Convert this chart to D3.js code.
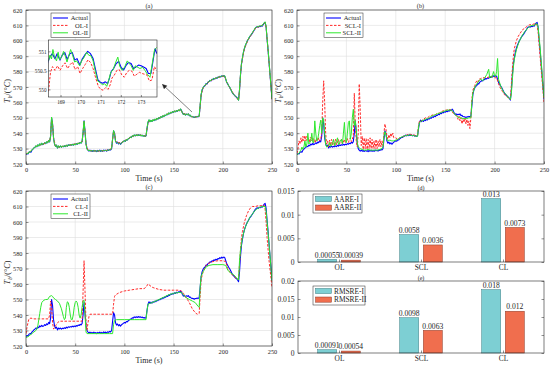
<!DOCTYPE html>
<html><head><meta charset="utf-8">
<script src="https://cdn.jsdelivr.net/npm/d3@7"></script>
<style>
body{margin:0;background:#fff;}
svg{display:block;font-family:"Liberation Serif","Times New Roman",serif;}
</style></head><body>
<svg id="chart" width="550" height="367"></svg>
<script>
// ---------------- data ----------------
const timeTicks = [0, 50, 100, 150, 200, 250];
const tempTicks = [520, 530, 540, 550, 560, 570, 580, 590, 600, 610, 620];
const insetTimeTicks = [169, 170, 171, 172, 173];
const insetTempTicks = [550, 550.5, 551];

const actual = [[0,526],[1,526.8],[2,526.5],[3,527.6],[4,528],[5,527.7],[6,529],[7,529.6],[8,530.4],[9,530.8],[10,531.6],[11,531.2],[12,532.3],[13,531.8],[14,533],[15,532.4],[16,533.4],[17,532.6],[18,533],[19,533.8],[20,533.2],[21,534.3],[22,533.8],[23,535.2],[24,534.4],[25,538],[26,550],[27,546],[28,537],[29,533],[30,531.5],[31,532.2],[32,530.4],[33,531.6],[34,531],[35,531.6],[36,530.9],[37,531.5],[38,531.2],[39,531.8],[40,531.3],[41,532.2],[42,531.6],[43,532.4],[44,532],[45,532.5],[46,532.2],[47,532.8],[48,532.3],[49,532.9],[50,532.5],[51,533.2],[52,532.8],[53,533.5],[54,533.2],[55,534],[56,533.6],[57,534.5],[58,540],[59,548],[60,541],[61,533],[62,530],[63,529],[64,528.4],[65,529],[66,528.3],[67,528.8],[68,528.1],[69,528.9],[70,528.3],[71,528.7],[72,528],[73,528.8],[74,528.3],[75,529],[76,528.2],[77,528.8],[78,528.2],[79,529.1],[80,528.5],[81,529],[82,528.4],[83,529.2],[84,528.8],[85,529.4],[86,529.1],[87,530],[88,536],[89,541.5],[90,540],[91,535],[92,533.5],[93,534.2],[94,533],[95,533.8],[96,532.8],[97,533.6],[98,534.2],[99,534.6],[100,535.2],[101,534.8],[102,535.8],[103,535.6],[104,536.4],[105,536.8],[106,537.4],[107,537.2],[108,538.2],[109,538],[110,538.8],[111,538.3],[112,538.9],[113,538.4],[114,539],[115,538.5],[116,538.9],[117,538.3],[118,538.7],[119,538.1],[120,538.4],[121,537.9],[122,538.3],[123,543],[124,547],[125,548.5],[126,547.5],[127,548.3],[128,547.6],[129,548.6],[130,548.2],[131,549],[132,548.6],[133,549.5],[134,549.2],[135,550],[136,549.8],[137,550.6],[138,550.3],[139,551.2],[140,550.8],[141,551.6],[142,551.5],[143,552.3],[144,552],[145,553],[146,552.6],[147,553.5],[148,553.2],[149,554],[150,553.6],[151,554.3],[152,553.9],[153,554.7],[154,554.3],[155,555],[156,554.6],[157,555.6],[158,554.8],[159,553.2],[160,552.2],[161,552.6],[162,551.8],[163,552.4],[164,552],[165,552.5],[166,551.4],[167,551.6],[168,550.8],[169,550.7],[170,550.6],[171,550.2],[172,550.6],[173,550.6],[174,550.9],[175,550.7],[176,551.2],[177,558],[178,565],[179,568],[180,569.5],[181,570.5],[182,571],[183,572.2],[184,572],[185,573.2],[186,573.5],[187,574.3],[188,574],[189,575],[190,574.8],[191,575.6],[192,575.2],[193,576],[194,575.6],[195,576.4],[196,576.2],[197,577],[198,576.5],[199,577.3],[200,576.8],[201,577.4],[202,577],[203,575],[204,573],[205,572],[206,570.8],[207,569.8],[208,568.5],[209,567.2],[210,566],[211,565.2],[212,564.6],[213,563.8],[214,563.4],[215,562.6],[216,561.5],[217,568],[218,578],[219,585],[220,589],[221,592.5],[222,595],[223,597],[224,598.5],[225,600],[226,601],[227,602.3],[228,603.2],[229,604],[230,605],[231,606],[232,607],[233,608.2],[234,608.8],[235,609.2],[236,608.8],[237,609.5],[238,609.2],[239,609.8],[240,609.5],[241,610.5],[242,611.5],[243,612],[244,609],[245,601],[246,594],[247,586],[248,578],[249,570],[250,562]];

const olI = [[0,526.5],[3,527.5],[6,529],[9,531],[12,532],[15,532.5],[18,533],[21,534],[24,535],[25,538],[26,549.5],[27,546],[28,537],[30,531.5],[34,531],[38,531.5],[42,532],[46,532.5],[50,533],[54,533.5],[57,534.5],[58,540],[59,547.5],[60,541],[61,533],[63,529],[67,528.5],[71,528.5],[75,528.5],[79,528.6],[83,529],[87,530],[88,536],[89,541],[90,540],[91,535],[93,534],[96,533.5],[100,535],[104,536.5],[108,538],[112,538.7],[116,538.8],[120,538.3],[122,538.2],[123,543],[124,547],[126,547.8],[130,548.5],[134,549.5],[138,550.5],[142,552],[146,553],[150,554],[154,554.5],[157,555.3],[159,553.2],[161,552.5],[165,552.2],[168,550.8],[172,550.4],[176,551],[177,558],[178,565],[180,569.5],[184,572.5],[188,574.3],[192,575.5],[196,576.4],[200,577],[202,577],[204,573],[208,568.5],[212,564.5],[216,561.5],[217,568],[218,578],[219,585],[222,595],[226,601],[230,605],[234,608.8],[238,609.3],[241,610.5],[243,611.8],[244,609],[246,594],[248,578],[250,562]];

const olII = [[0,526.3],[1,527],[2,526.6],[3,527.9],[4,527.8],[5,528.2],[6,529.3],[7,529.4],[8,530.7],[9,530.6],[10,531.9],[11,531],[12,532.6],[13,531.6],[14,533.2],[15,532.2],[16,533.7],[17,532.5],[18,533.3],[19,534],[20,533],[21,534.6],[22,533.6],[23,535.4],[24,534.2],[25,538.5],[26,550.5],[27,545.5],[28,536.5],[29,532.8],[30,531.3],[31,532.5],[32,530.2],[33,531.9],[34,530.8],[35,531.9],[36,530.7],[37,531.8],[38,531],[39,532],[40,531.1],[41,532.4],[42,531.4],[43,532.6],[44,531.8],[45,532.7],[46,532],[47,533],[48,532.1],[49,533.1],[50,532.3],[51,533.4],[52,532.6],[53,533.7],[54,533],[55,534.2],[56,533.4],[57,534.8],[58,541],[59,547.8],[60,540.5],[61,532.6],[62,529.7],[63,528.8],[64,528.6],[65,528.8],[66,528.5],[67,528.6],[68,528.3],[69,528.7],[70,528.5],[71,528.5],[72,528.2],[73,528.6],[74,528.5],[75,528.8],[76,528.4],[77,528.6],[78,528.4],[79,528.9],[80,528.7],[81,528.8],[82,528.6],[83,529],[84,529],[85,529.2],[86,529.3],[87,530.3],[88,536.5],[89,541.8],[90,539.6],[91,534.6],[92,533.8],[93,533.9],[94,533.3],[95,533.5],[96,533],[97,533.4],[98,534.4],[99,534.4],[100,535.4],[101,534.6],[102,536],[103,535.4],[104,536.6],[105,536.6],[106,537.6],[107,537],[108,538.4],[109,537.8],[110,539],[111,538.1],[112,539.1],[113,538.2],[114,539.2],[115,538.3],[116,539.1],[117,538.1],[118,538.9],[119,537.9],[120,538.6],[121,537.7],[122,538.5],[123,543.5],[124,547.5],[125,548.8],[126,547.2],[127,548.6],[128,547.4],[129,548.9],[130,548],[131,549.3],[132,548.4],[133,549.8],[134,549],[135,550.3],[136,549.6],[137,550.9],[138,550.1],[139,551.5],[140,550.6],[141,551.9],[142,551.3],[143,552.6],[144,551.8],[145,553.3],[146,552.4],[147,553.8],[148,553],[149,554.3],[150,553.4],[151,554.6],[152,553.7],[153,555],[154,554.1],[155,555.3],[156,554.4],[157,555.9],[158,554.6],[159,553],[160,552],[161,552.8],[162,551.6],[163,552.6],[164,551.8],[165,552.7],[166,551.2],[167,551.8],[168,550.6],[169,550.9],[170,550.4],[171,550.4],[172,550.4],[173,550.8],[174,550.7],[175,550.9],[176,551],[177,558.5],[178,565.3],[179,568.3],[180,569.8],[181,570.3],[182,571.3],[183,572],[184,572.3],[185,573],[186,573.8],[187,574.1],[188,574.3],[189,574.8],[190,575.1],[191,575.4],[192,575.5],[193,575.8],[194,575.9],[195,576.2],[196,576.5],[197,576.8],[198,576.8],[199,577.1],[200,577.1],[201,577.2],[202,577.3],[203,575.3],[204,572.8],[205,572.3],[206,570.5],[207,570],[208,568.3],[209,567.4],[210,565.8],[211,565.4],[212,564.4],[213,564],[214,563.2],[215,562.8],[216,561.3],[217,568.5],[218,578.5],[219,585.3],[220,589.3],[221,592.8],[222,595.2],[223,597.3],[224,598.7],[225,600.2],[226,601.2],[227,602.5],[228,603.4],[229,604.3],[230,605.2],[231,606.3],[232,607.3],[233,608.5],[234,608.6],[235,609.4],[236,609],[237,609.7],[238,609.4],[239,610],[240,609.7],[241,610.8],[242,611.8],[243,612.3],[244,609.5],[245,601.5],[246,594.5],[247,586.5],[248,578.5],[249,570.5],[250,562.3]];

const insetActual = [[168.35,550.68],[168.46,550.85],[168.59,550.94],[168.72,550.81],[168.83,550.94],[168.97,550.77],[169.08,550.9],[169.21,550.97],[169.33,550.79],[169.46,550.94],[169.58,550.97],[169.71,550.77],[169.82,550.81],[169.96,550.64],[170.07,550.79],[170.2,550.9],[170.35,551.0],[170.49,550.94],[170.62,550.81],[170.73,550.55],[170.86,550.25],[170.98,550.19],[171.1,550.16],[171.23,550.2],[171.34,550.15],[171.43,550.29],[171.52,550.47],[171.64,550.55],[171.77,550.68],[171.89,550.74],[172.02,550.57],[172.14,550.51],[172.27,550.64],[172.38,550.71],[172.51,550.68],[172.63,550.55],[172.75,550.59],[172.88,550.64],[173.01,550.62],[173.13,550.59],[173.26,550.55],[173.37,550.42],[173.5,550.42],[173.62,550.81],[173.7,551.07],[173.79,550.94]];
const insetOLI = [[168.4,549.95],[168.5,550.45],[168.6,550.6],[168.72,550.5],[168.85,550.62],[168.97,550.5],[169.1,550.62],[169.22,550.7],[169.35,550.55],[169.47,550.65],[169.6,550.72],[169.72,550.52],[169.85,550.6],[169.97,550.42],[170.1,550.55],[170.22,550.65],[170.37,550.78],[170.5,550.7],[170.62,550.55],[170.75,550.3],[170.88,550.08],[171.0,550.0],[171.12,549.98],[171.25,550.05],[171.37,550.0],[171.47,550.12],[171.56,550.3],[171.68,550.38],[171.8,550.5],[171.92,550.52],[172.05,550.38],[172.17,550.32],[172.3,550.45],[172.42,550.5],[172.55,550.48],[172.67,550.35],[172.8,550.4],[172.92,550.45],[173.05,550.42],[173.17,550.4],[173.3,550.38],[173.42,550.22],[173.55,550.25],[173.67,550.6],[173.78,550.5]];
const insetOLII = [[168.4,550.75],[168.47,550.9],[168.55,550.8],[168.62,551.05],[168.7,550.85],[168.8,550.75],[168.88,550.98],[168.95,550.78],[169.05,550.85],[169.15,551.0],[169.25,550.85],[169.32,550.72],[169.42,550.9],[169.5,551.05],[169.6,550.9],[169.7,550.72],[169.8,550.75],[169.95,550.62],[170.05,550.75],[170.18,550.85],[170.3,550.98],[170.4,550.9],[170.52,550.88],[170.62,550.75],[170.72,550.5],[170.85,550.22],[170.97,550.18],[171.08,550.12],[171.2,550.15],[171.3,550.08],[171.4,550.25],[171.5,550.45],[171.62,550.52],[171.75,550.72],[171.85,550.85],[171.95,550.6],[172.07,550.5],[172.2,550.6],[172.32,550.75],[172.42,550.68],[172.52,550.62],[172.62,550.5],[172.72,550.62],[172.85,550.58],[172.95,550.55],[173.08,550.58],[173.2,550.5],[173.32,550.4],[173.45,550.32],[173.57,550.7],[173.68,551.05],[173.78,551.1]];

const sclI = [[0,527],[1,530],[2,535],[3,533],[4,537],[5,534],[6,538],[7,535],[8,538.5],[9,535],[10,538],[11,536],[12,537],[13,534],[14,537.5],[15,535],[16,537],[17,534],[18,536],[19,534],[20,537],[21,535],[22,537],[23,535],[24,536],[25,540],[26,560],[27,574],[28,560],[29,540],[30,533],[31,535],[32,531],[33,535.5],[34,532],[35,536],[36,532],[37,535.5],[38,532],[39,536],[40,532.5],[42,536],[43,533],[45,536],[46,533],[48,536],[49,533.5],[51,536.5],[52,534],[54,537],[55,534.5],[57,538],[58,566],[59,545],[60,535],[61,531],[62,540],[63,572],[64,555],[65,532],[66,538],[67,529.5],[68,537],[69,530],[70,536.5],[71,529.5],[72,536],[73,530],[74,537],[75,530],[76,536],[77,530],[78,535],[79,530],[80,536],[81,530],[82,535],[83,531],[84,536],[85,531],[86,535],[87,532],[88,540],[89,546],[90,543],[91,538],[92,536],[93,539],[94,537],[95,540],[96,538],[97,540],[98,537],[100,537],[102,536],[104,537],[106,537.5],[108,538],[110,538.5],[112,539],[114,539.5],[116,539],[118,539],[120,538.5],[122,538.5],[123,545],[124,548],[126,548],[128,549],[130,550],[132,550],[134,551],[136,551.5],[138,552],[140,552],[142,553],[144,553],[146,554],[148,554.5],[150,555],[152,555],[154,555.5],[156,555],[158,553],[160,552],[162,551],[163,549],[164,551],[165,548],[166,550],[167,546],[168,549],[169,547],[170,550],[171,546],[172,549],[173,545],[174,548],[175,543],[176,550],[177,562],[178,568],[180,571],[181,573],[182,574],[183,573],[184,575],[186,575.5],[188,576],[190,576],[192,576],[194,576.5],[196,576.5],[198,577],[200,576],[202,576],[204,572],[206,569],[208,567],[210,565],[212,564],[214,563],[216,562],[217,572],[218,582],[219,590],[220,595],[222,600],[224,603],[226,605],[228,607],[230,608],[232,609],[234,610],[236,610.5],[238,610.5],[240,611],[242,611],[243,610],[244,606],[245,598],[246,590],[248,575],[250,560]];

const sclII = [[0,526],[2,527],[4,529],[5,531],[6,529.5],[7,531],[8,535],[9,531],[10,533],[11,540],[12,533],[13,534],[14,535],[15,540],[16,534],[17,534],[18,548],[19,540],[20,535],[21,536],[22,540],[23,545],[24,548.5],[25,540],[26,550],[27,548],[28,540],[29,533],[30,531],[32,532],[33,534],[34,531.5],[35,532],[36,534],[37,536],[38,532],[39,533],[40,535],[41,537],[42,532.5],[43,534],[45,536],[46,533],[47,540],[48,547],[49,536],[50,534],[51,540],[52,547],[53,548],[54,536],[55,540],[56,550],[57,555.5],[58,545],[59,548],[60,542],[61,534],[62,531],[64,530],[66,529.5],[68,529],[70,529],[72,529.5],[74,529],[76,529],[78,529],[80,529],[82,529],[84,529.5],[86,530],[87,531],[88,538],[89,541],[90,539],[91,536],[92,535],[94,535.5],[96,535],[98,535],[100,535.5],[102,536],[104,537],[106,537.5],[108,538],[110,538.5],[112,538.5],[114,539],[116,538.5],[118,538.5],[120,538],[122,538],[123,544],[124,547],[126,548],[128,548.5],[130,549],[132,549.5],[134,550],[136,551],[138,551.5],[140,552],[142,552.5],[144,553],[146,553.5],[148,554],[150,554.5],[152,555],[154,555],[156,555],[158,554],[160,552],[162,551],[164,550],[166,550],[168,549.5],[170,549.5],[172,549.5],[174,550],[176,550],[177,560],[178,566],[180,570],[182,572],[184,574],[186,575],[188,574],[190,576],[192,578],[194,581.5],[195,576],[196,577],[197,576],[198,578],[199,580],[200,577],[201,577],[202,580],[203,588.5],[204,575],[206,571],[208,568],[210,566],[212,565],[214,563],[216,562],[217,566],[218,575],[219,583],[220,588],[222,594],[224,598],[226,601],[228,603.5],[230,605.5],[232,607],[234,608.5],[236,609.5],[238,610],[240,610],[242,611],[243,611],[244,609],[245,603],[246,596],[248,580],[250,563]];

const clI = [[0,528],[1,532],[2,535],[3,537.5],[5,538],[8,537.5],[12,537.5],[16,537.5],[20,537.5],[23,537.5],[24,540],[25,549],[26,545],[27,535],[28,531],[29,531.5],[30,533],[32,535],[34,536],[38,536],[44,536],[50,536],[55,536],[57,536],[58,555],[59,575],[60,555],[61,535],[62,530],[63,535],[64,539],[65,540.5],[70,540.5],[75,540.5],[80,540.5],[85,540.5],[88,540.5],[89,547],[90,552],[91,553],[95,554.5],[100,555.5],[105,556],[110,556.5],[115,557],[120,557],[122,558],[124,560],[126,559],[128,558],[130,557.5],[135,556.5],[140,556],[145,556],[150,556],[155,556],[158,555.5],[160,554],[163,551],[166,548],[169,544],[172,541.5],[174,540.5],[176,541],[177,552],[178,563],[180,568],[183,572],[186,573.5],[190,574.5],[195,575],[200,575],[203,574.5],[205,570],[208,567],[211,565],[214,563.5],[216,563],[217,573],[218,582],[219,590],[220,594],[222,600],[224,604],[226,607],[228,609],[230,610],[233,610],[236,610.5],[240,610.5],[242,611],[243,608],[244,600],[245,590],[247,575],[250,558]];

const clII = [[0,525.5],[2,526],[4,527],[6,528],[8,529],[10,530],[11,531],[12,533],[13,537],[14,541],[15,545],[16,548],[18,549.5],[20,550],[22,550],[24,552],[26,552.5],[27,552],[28,551],[30,550],[32,549],[34,547.5],[36,544],[38,539],[39,537],[40,538],[41,545],[42,548.5],[43,548],[44,545],[45,540],[46,537],[47,537],[48,540],[49,545],[50,548],[51,549],[52,548],[53,545],[54,540],[55,538],[56,540],[57,545],[58,549],[59,549.5],[60,540],[61,529],[62,528],[65,528],[70,528],[75,528],[80,528],[85,528],[88,528],[89,534],[90,536.5],[92,537],[100,537],[110,537],[115,537],[120,537],[122,537],[123,543],[124,547],[126,547.5],[130,548.5],[135,550],[140,551.5],[145,553],[150,554],[155,554.5],[158,554.5],[160,553],[163,551],[166,550],[169,549],[172,548],[175,545.5],[176,545],[177,558],[178,565],[180,568],[183,571],[186,572],[190,572.5],[195,572.5],[200,572.5],[203,572],[205,569],[208,567],[211,566],[214,564],[216,562.5],[217,575],[218,582],[219,586],[220,590],[222,595],[224,598.5],[226,601],[228,603.5],[230,605],[232,607],[234,608],[236,609],[238,609.5],[240,610],[242,610],[243,610],[244,607],[245,600],[246,593],[248,578],[250,562]];

const categories = ["OL", "SCL", "CL"];
const aareI = [0.00055, 0.0058, 0.0134];
const aareII = [0.00039, 0.0036, 0.0073];
const rmsreI = [0.00091, 0.0098, 0.0176];
const rmsreII = [0.00054, 0.0063, 0.0116];
const aareTicks = [0, 0.005, 0.01, 0.015];
const rmsreTicks = [0, 0.005, 0.01, 0.015, 0.02];

// ---------------- styles ----------------
const AX = "#262626", GRID = "#dedede";
const BLUE = "#0000ff", RED = "#ff2a2a", GREEN = "#2ee82e";
const TEAL = "#7dcfd3", ORANGE = "#f06e4e";

const svg = d3.select("#chart");
let clipId = 0;

function styleAxis(g, fs) {
  g.select(".domain").remove();
  g.selectAll(".tick line").attr("stroke", AX).attr("stroke-width", 0.5);
  g.selectAll(".tick text").attr("fill", AX).attr("font-size", fs)
    .attr("font-family", '"Liberation Serif", serif');
}

function linePanel(p) {
  const g = svg.append("g");
  const x = d3.scaleLinear([0, 250], [p.x0, p.x1]);
  const y = d3.scaleLinear([520, 620], [p.y1, p.y0]);
  const w = p.x1 - p.x0, h = p.y1 - p.y0;
  g.append("g").selectAll("line").data(timeTicks).join("line")
    .attr("x1", d => x(d)).attr("x2", d => x(d)).attr("y1", p.y0).attr("y2", p.y1)
    .attr("stroke", GRID).attr("stroke-width", 0.6);
  g.append("g").selectAll("line").data(tempTicks).join("line")
    .attr("y1", d => y(d)).attr("y2", d => y(d)).attr("x1", p.x0).attr("x2", p.x1)
    .attr("stroke", GRID).attr("stroke-width", 0.6);
  const xa = g.append("g").attr("transform", `translate(0,${p.y1})`)
    .call(d3.axisBottom(x).tickValues(timeTicks).tickSize(-2.5).tickPadding(4));
  styleAxis(xa, 6.3);
  const ya = g.append("g").attr("transform", `translate(${p.x0},0)`)
    .call(d3.axisLeft(y).tickValues(tempTicks).tickSize(-2.5).tickPadding(3.5));
  styleAxis(ya, 6.3);
  const id = "clip" + (clipId++);
  svg.append("clipPath").attr("id", id).append("rect")
    .attr("x", p.x0).attr("y", p.y0).attr("width", w).attr("height", h);
  const line = d3.line().x(d => x(d[0])).y(d => y(d[1]));
  const sg = g.append("g").attr("clip-path", `url(#${id})`);
  p.series.forEach(s => {
    sg.append("path").datum(s.data).attr("d", line).attr("fill", "none")
      .attr("stroke", s.color).attr("stroke-width", s.width)
      .attr("stroke-dasharray", s.dash || null).attr("stroke-linejoin", "round");
  });
  g.append("rect").attr("x", p.x0).attr("y", p.y0).attr("width", w).attr("height", h)
    .attr("fill", "none").attr("stroke", AX).attr("stroke-width", 0.6);
  g.append("text").attr("x", (p.x0 + p.x1) / 2).attr("y", p.y0 - 2.5).attr("text-anchor", "middle")
    .attr("font-size", 6.3).attr("fill", AX).text(p.title);
  g.append("text").attr("x", (p.x0 + p.x1) / 2).attr("y", p.y1 + 17).attr("text-anchor", "middle")
    .attr("font-size", 8).attr("fill", AX).text("Time (s)");
  const yl = g.append("text").attr("transform", `translate(${p.x0 - 16},${(p.y0 + p.y1) / 2 + 4}) rotate(-90)`)
    .attr("text-anchor", "middle").attr("font-size", 8.2).attr("fill", AX);
  yl.append("tspan").attr("font-style", "italic").text("T");
  yl.append("tspan").attr("font-style", "italic").attr("font-size", 5.5).attr("dy", 1.8).text("b");
  yl.append("tspan").attr("dy", -1.8).text("/(°");
  yl.append("tspan").attr("font-style", "italic").text("C");
  yl.append("tspan").text(")");
  const lg = g.append("g").attr("transform", `translate(${p.x0 + p.lx},${p.y0 + 3})`);
  lg.append("rect").attr("width", 39).attr("height", 24.5).attr("fill", "#fff")
    .attr("stroke", AX).attr("stroke-width", 0.5);
  p.series.forEach((s, i) => {
    const yy = 5 + i * 7.4;
    lg.append("line").attr("x1", 2).attr("x2", 17).attr("y1", yy).attr("y2", yy)
      .attr("stroke", s.color).attr("stroke-width", s.width).attr("stroke-dasharray", s.dash || null);
    lg.append("text").attr("x", 37).attr("y", yy + 2.2).attr("text-anchor", "end")
      .attr("font-size", 6.5).attr("fill", AX).text(s.name);
  });
  return {g, x, y};
}

// (a)
linePanel({x0: 26, x1: 272, y0: 10, y1: 164, title: "(a)", lx: 25,
  series: [
    {name: "Actual", data: actual, color: BLUE, width: 1.1},
    {name: "OL-I", data: olI, color: RED, width: 1, dash: "2.5,1.5"},
    {name: "OL-II", data: olII, color: GREEN, width: 1}
  ]});

// inset in (a)
(function () {
  const ix0 = 48.5, ix1 = 157, iy0 = 40, iy1 = 97;
  const g = svg.append("g");
  const x = d3.scaleLinear([168.4, 173.8], [ix0, ix1]);
  const y = d3.scaleLinear([549.8, 551.3], [iy1, iy0]);
  g.append("rect").attr("x", ix0).attr("y", iy0).attr("width", ix1 - ix0).attr("height", iy1 - iy0)
    .attr("fill", "#fff");
  g.append("g").selectAll("line").data(insetTimeTicks).join("line")
    .attr("x1", d => x(d)).attr("x2", d => x(d)).attr("y1", iy0).attr("y2", iy1)
    .attr("stroke", GRID).attr("stroke-width", 0.5);
  g.append("g").selectAll("line").data(insetTempTicks).join("line")
    .attr("y1", d => y(d)).attr("y2", d => y(d)).attr("x1", ix0).attr("x2", ix1)
    .attr("stroke", GRID).attr("stroke-width", 0.5);
  const xa = g.append("g").attr("transform", `translate(0,${iy1})`)
    .call(d3.axisBottom(x).tickValues(insetTimeTicks).tickFormat(d3.format("~g")).tickSize(-2).tickPadding(3));
  styleAxis(xa, 5.2);
  const ya = g.append("g").attr("transform", `translate(${ix0},0)`)
    .call(d3.axisLeft(y).tickValues(insetTempTicks).tickSize(-2).tickPadding(2).tickFormat(d3.format("~g")));
  styleAxis(ya, 5.2);
  svg.append("clipPath").attr("id", "insetclip").append("rect")
    .attr("x", ix0).attr("y", iy0).attr("width", ix1 - ix0).attr("height", iy1 - iy0);
  const line = d3.line().x(d => x(d[0])).y(d => y(d[1]));
  const sg = g.append("g").attr("clip-path", "url(#insetclip)");
  [[insetActual, BLUE, 1.1, null], [insetOLI, RED, 1, "2.5,1.5"], [insetOLII, GREEN, 1, null]].forEach(s => {
    sg.append("path").datum(s[0]).attr("d", line).attr("fill", "none").attr("stroke", s[1])
      .attr("stroke-width", s[2]).attr("stroke-dasharray", s[3]).attr("stroke-linejoin", "round");
  });
  g.append("rect").attr("x", ix0).attr("y", iy0).attr("width", ix1 - ix0).attr("height", iy1 - iy0)
    .attr("fill", "none").attr("stroke", AX).attr("stroke-width", 0.6);
  const ax1 = 192, ay1 = 112, ax2 = 162.5, ay2 = 84.5;
  const ang = Math.atan2(ay2 - ay1, ax2 - ax1);
  g.append("line").attr("x1", ax1).attr("y1", ay1).attr("x2", ax2).attr("y2", ay2)
    .attr("stroke", "#333").attr("stroke-width", 0.6);
  const L = 4.5, s = 0.45;
  g.append("path").attr("d",
    `M${ax2 + L * Math.cos(ang + Math.PI - s)},${ay2 + L * Math.sin(ang + Math.PI - s)} L${ax2},${ay2} L${ax2 + L * Math.cos(ang + Math.PI + s)},${ay2 + L * Math.sin(ang + Math.PI + s)} Z`)
    .attr("fill", "#222").attr("stroke", "#222").attr("stroke-width", 0.5);
})();

// (b)
linePanel({x0: 297, x1: 544, y0: 10, y1: 164, title: "(b)", lx: 27,
  series: [
    {name: "Actual", data: actual, color: BLUE, width: 1.1},
    {name: "SCL-I", data: sclI, color: RED, width: 1, dash: "2.5,1.5"},
    {name: "SCL-II", data: sclII, color: GREEN, width: 1}
  ]});

// (c)
linePanel({x0: 26, x1: 272, y0: 191, y1: 346, title: "(c)", lx: 25,
  series: [
    {name: "Actual", data: actual, color: BLUE, width: 1.1},
    {name: "CL-I", data: clI, color: RED, width: 1, dash: "2.5,1.5"},
    {name: "CL-II", data: clII, color: GREEN, width: 1}
  ]});

function barPanel(p) {
  const g = svg.append("g");
  const x = d3.scaleLinear([0.5, 3.5], [p.x0, p.x1]);
  const y = d3.scaleLinear([0, p.ymax], [p.y1, p.y0]);
  const unit = x(1) - x(0);
  const off = 0.144 * unit, bw = 0.232 * unit;
  const xa = g.append("g").attr("transform", `translate(0,${p.y1})`)
    .call(d3.axisBottom(x).tickValues([1, 2, 3]).tickFormat((d, i) => categories[i]).tickSize(-2.5).tickPadding(2.5));
  styleAxis(xa, 7.4);
  const ya = g.append("g").attr("transform", `translate(${p.x0},0)`)
    .call(d3.axisLeft(y).tickValues(p.ticks).tickFormat(d3.format("~g")).tickSize(-2.5).tickPadding(3.5));
  styleAxis(ya, 7.6);
  const ya2 = g.append("g").attr("transform", `translate(${p.x1},0)`)
    .call(d3.axisRight(y).tickValues(p.ticks).tickSize(-2.5).tickFormat(""));
  styleAxis(ya2, 7.6);
  const fmt = d3.format(".2r");
  const sets = [{vals: p.a, color: TEAL, stroke: "#3d7f84", dx: -off}, {vals: p.b, color: ORANGE, stroke: "#8a3a28", dx: off}];
  sets.forEach(s => {
    g.append("g").selectAll("rect").data(s.vals).join("rect")
      .attr("x", (d, i) => x(i + 1) + s.dx - bw / 2).attr("width", bw)
      .attr("y", d => y(d)).attr("height", d => y(0) - y(d))
      .attr("fill", s.color).attr("stroke", s.stroke).attr("stroke-width", 0.5);
    g.append("g").selectAll("text").data(s.vals).join("text")
      .attr("x", (d, i) => x(i + 1) + s.dx).attr("y", d => y(d) - 1.8)
      .attr("text-anchor", "middle").attr("font-size", 7.6).attr("fill", AX)
      .text(d => fmt(d));
  });
  g.append("rect").attr("x", p.x0).attr("y", p.y0).attr("width", p.x1 - p.x0).attr("height", p.y1 - p.y0)
    .attr("fill", "none").attr("stroke", AX).attr("stroke-width", 0.6);
  g.append("text").attr("x", (p.x0 + p.x1) / 2).attr("y", p.y0 - 1.5).attr("text-anchor", "middle")
    .attr("font-size", 6).attr("fill", AX).text(p.title);
  const lg = g.append("g").attr("transform", `translate(${p.lx},${p.ly})`);
  lg.append("rect").attr("width", p.lw).attr("height", 19).attr("fill", "#fff")
    .attr("stroke", AX).attr("stroke-width", 0.5);
  [[p.na, TEAL, "#3d7f84"], [p.nb, ORANGE, "#8a3a28"]].forEach((e, i) => {
    const yy = 5 + i * 8.6;
    lg.append("rect").attr("x", 2.5).attr("y", yy - 2.6).attr("width", 16).attr("height", 5.2)
      .attr("fill", e[1]).attr("stroke", e[2]).attr("stroke-width", 0.5);
    lg.append("text").attr("x", 21).attr("y", yy + 2.6).attr("font-size", 7.4).attr("fill", AX).text(e[0]);
  });
}

barPanel({x0: 298, x1: 544, y0: 191, y1: 262, ymax: 0.015, ticks: aareTicks, title: "(d)",
  a: aareI, b: aareII, na: "AARE-I", nb: "AARE-II", lx: 313, ly: 194, lw: 49});
barPanel({x0: 298, x1: 544, y0: 281, y1: 353, ymax: 0.02, ticks: rmsreTicks, title: "(e)",
  a: rmsreI, b: rmsreII, na: "RMSRE-I", nb: "RMSRE-II", lx: 313, ly: 286, lw: 52});
</script>
</body></html>
